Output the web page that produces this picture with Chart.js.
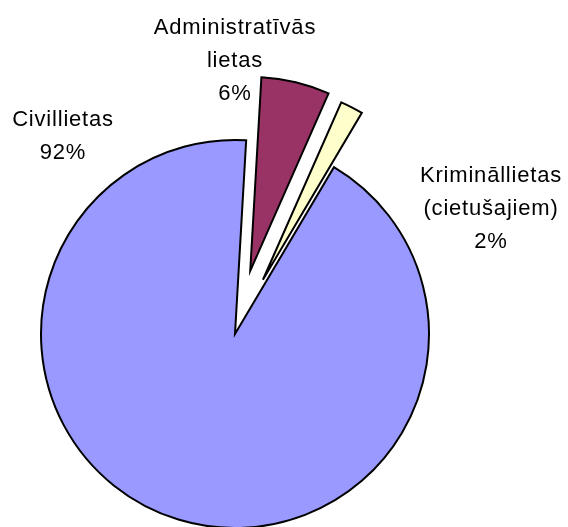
<!DOCTYPE html>
<html>
<head>
<meta charset="utf-8">
<script src="https://cdn.jsdelivr.net/npm/chart.js@4"></script>
<style>
  html, body { margin: 0; padding: 0; background: #fff; }
  #wrap { width: 568px; height: 527px; position: relative; }
</style>
</head>
<body>
<div id="wrap"><canvas id="pie"></canvas></div>
<script>
// ── Data ─────────────────────────────────────────────────────────────────
const categories = [
    ['Administratīvās', 'lietas'],
    ['Krimin\u0101llietas', '(cietušajiem)'],
    ['Civillietas']
];
const shares = [5.7, 1.9, 92.4];

// ── Style ────────────────────────────────────────────────────────────────
const colors  = ['#993366', '#FFFFCC', '#9999FF'];
const explode = [65, 61, 0];
// label anchor (centre x, first baseline y) per slice
const labelPos = [[235, 34], [491, 182], [63, 126]];
const lineGap  = 33;

// pulls exploded slices out along their mid angle
const explodePlugin = {
    id: 'explode',
    afterDatasetUpdate(chart, args) {
        args.meta.data.forEach((arc, i) => {
            const d = explode[i];
            if (!d || arc._exploded) return;
            const draw = arc.draw.bind(arc);
            arc.draw = function (ctx) {
                const mid = (this.startAngle + this.endAngle) / 2;
                ctx.save();
                ctx.translate(Math.cos(mid) * d, Math.sin(mid) * d);
                draw(ctx);
                ctx.restore();
            };
            arc._exploded = true;
        });
    }
};

const labelPlugin = {
    id: 'sliceLabels',
    afterDraw(chart) {
        const ctx = chart.ctx;
        const data = chart.data.datasets[0].data;
        const total = data.reduce((a, b) => a + b, 0);
        ctx.save();
        ctx.font = '22px "Liberation Sans", Arial, sans-serif';
        ctx.letterSpacing = '0.8px';
        ctx.fillStyle = '#000';
        ctx.textAlign = 'center';
        ctx.textBaseline = 'alphabetic';
        chart.data.labels.forEach((lines, i) => {
            const [x, y] = labelPos[i];
            const pct = Math.round(data[i] / total * 100) + '%';
            [...lines, pct].forEach((t, k) => ctx.fillText(t, x, y + k * lineGap));
        });
        ctx.restore();
    }
};

new Chart(document.getElementById('pie'), {
    type: 'pie',
    data: {
        labels: categories,
        datasets: [{
            data: shares,
            backgroundColor: colors,
            borderColor: '#000',
            borderWidth: 2,
            borderJoinStyle: 'miter'
        }]
    },
    options: {
        responsive: true,
        maintainAspectRatio: false,
        animation: false,
        rotation: 3.3,
        radius: 194,
        layout: { padding: { left: 0, right: 98, top: 141, bottom: 0 } },
        plugins: {
            legend: { display: false },
            tooltip: { enabled: false }
        }
    },
    plugins: [explodePlugin, labelPlugin]
});
</script>
</body>
</html>
